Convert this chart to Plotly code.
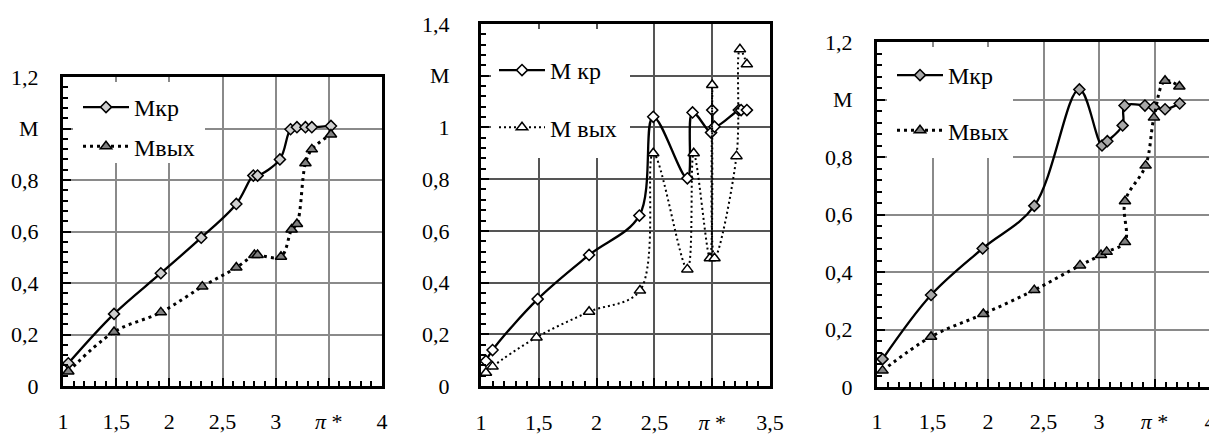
import plotly.graph_objects as go

# page body keeps its default 8px margin: the figure starts at (8, 8) on screen
OFF = 8
W, H = 1217 - OFF, 434 - OFF

# ---------------- data ----------------
# Panel 1
p1_x_kr = [1.05, 1.48, 1.92, 2.30, 2.63, 2.79, 2.83, 3.04, 3.14, 3.20, 3.28, 3.34, 3.52]
p1_m_kr = [0.088, 0.28, 0.438, 0.576, 0.707, 0.817, 0.817, 0.880, 0.997, 1.005, 1.005, 1.005, 1.01]
p1_x_out = [1.05, 1.48, 1.92, 2.31, 2.63, 2.80, 2.83, 3.05, 3.15, 3.20, 3.28, 3.34, 3.52]
p1_m_out = [0.056, 0.21, 0.286, 0.386, 0.46, 0.509, 0.509, 0.502, 0.608, 0.629, 0.865, 0.919, 0.977]

# Panel 2
p2_x_kr = [1.043, 1.10, 1.49, 1.935, 2.37, 2.49, 2.785, 2.83, 2.99, 3.00, 3.02, 3.23, 3.25, 3.30]
p2_m_kr = [0.097, 0.139, 0.336, 0.507, 0.659, 1.041, 0.803, 1.058, 0.98, 1.067, 1.003, 1.067, 1.067, 1.067]
p2_x_out = [1.043, 1.10, 1.48, 1.935, 2.375, 2.49, 2.785, 2.84, 2.98, 3.00, 3.02, 3.21, 3.24, 3.30]
p2_m_out = [0.051, 0.075, 0.188, 0.287, 0.369, 0.90, 0.451, 0.90, 0.494, 1.164, 0.494, 0.889, 1.302, 1.244]

# Panel 3
p3_x_kr = [1.05, 1.487, 1.952, 2.417, 2.823, 3.027, 3.075, 3.213, 3.23, 3.414, 3.495, 3.595, 3.727]
p3_m_kr = [0.097, 0.32, 0.482, 0.63, 1.035, 0.84, 0.855, 0.91, 0.979, 0.979, 0.973, 0.966, 0.986]
p3_x_out = [1.05, 1.487, 1.958, 2.417, 2.829, 3.018, 3.069, 3.234, 3.234, 3.42, 3.495, 3.595, 3.724]
p3_m_out = [0.057, 0.175, 0.254, 0.337, 0.423, 0.459, 0.47, 0.504, 0.646, 0.77, 0.937, 1.065, 1.045]

# tick labels
p1_xticks = [1, 1.5, 2, 2.5, 3, 3.5, 4]
p1_xtext = ["1", "1,5", "2", "2,5", "3", "<i>π</i> *", "4"]
p1_yticks = [0, 0.2, 0.4, 0.6, 0.8, 1.0, 1.2]
p1_ytext = ["0", "0,2", "0,4", "0,6", "0,8", "M", "1,2"]

p2_xticks = [1, 1.5, 2, 2.5, 3, 3.5]
p2_xtext = ["1", "1,5", "2", "2,5", "<i>π</i> *", "3,5"]
p2_yticks = [0, 0.2, 0.4, 0.6, 0.8, 1.0, 1.2, 1.4]
p2_ytext = ["0", "0,2", "0,4", "0,6", "0,8", "1", "M", "1,4"]

p3_xticks = [1, 1.5, 2, 2.5, 3, 3.5, 4]
p3_xtext = ["1", "1,5", "2", "2,5", "3", "<i>π</i> *", "4"]
p3_yticks = [0, 0.2, 0.4, 0.6, 0.8, 1.0, 1.2]
p3_ytext = ["0", "0,2", "0,4", "0,6", "0,8", "M", "1,2"]

names1 = ["Мкр", "Мвых"]
names2 = ["М кр", "М вых"]
names3 = ["Мкр", "Мвых"]

FONT = "Liberation Serif, Times New Roman, DejaVu Serif, serif"

# screen pixel boxes of the plot areas (left, right, top, bottom)
boxes = [(63, 382, 77, 386), (481, 770, 24, 386), (877, 1210, 42, 387)]
# legend cover boxes in screen pixels (left, right, top, bottom)
covers = [(73, 205, 82, 163), (491, 630, 29, 158), (887, 1013, 47, 158)]
# legend top-left positions in screen pixels
legpos = [(90, 85), (506, 48), (904, 53)]
leggap = [5, 23, 21]
xstand = [14, 15, 13]
ystand = [17, 24, 17]

fig = go.Figure()

panels = [
    dict(xk=p1_x_kr, yk=p1_m_kr, xo=p1_x_out, yo=p1_m_out, names=names1,
         dfill="#cfcfcf", tfill="#808080", owidth=3, odash="3px,4px",
         grid="#8a8a8a", gw=1.5, xr=[1, 4], yr=[0, 1.2],
         xt=p1_xticks, xtt=p1_xtext, yt=p1_yticks, ytt=p1_ytext),
    dict(xk=p2_x_kr, yk=p2_m_kr, xo=p2_x_out, yo=p2_m_out, names=names2,
         dfill="white", tfill="white", owidth=2, odash="2px,3px",
         grid="#555555", gw=2, xr=[1, 3.5], yr=[0, 1.4],
         xt=p2_xticks, xtt=p2_xtext, yt=p2_yticks, ytt=p2_ytext),
    dict(xk=p3_x_kr, yk=p3_m_kr, xo=p3_x_out, yo=p3_m_out, names=names3,
         dfill="#a8a8a8", tfill="#808080", owidth=3, odash="3px,4px",
         grid="#8a8a8a", gw=1.5, xr=[1, 4], yr=[0, 1.2],
         xt=p3_xticks, xtt=p3_xtext, yt=p3_yticks, ytt=p3_ytext),
]


def clamp(v):
    return max(0.0, min(1.0, v))


shapes = []
for i, p in enumerate(panels):
    n = "" if i == 0 else str(i + 1)
    leg = "legend" + n
    xa, ya = "x" + n, "y" + n
    fig.add_trace(go.Scatter(
        x=p["xk"], y=p["yk"], name=p["names"][0], xaxis=xa, yaxis=ya,
        mode="lines+markers", line=dict(color="black", width=2.3, shape="spline", smoothing=1),
        marker=dict(symbol="diamond", size=8.5, color=p["dfill"], line=dict(color="black", width=1.5)),
        cliponaxis=False, legend=leg, legendgroup="a" + n))
    fig.add_trace(go.Scatter(
        x=p["xo"], y=p["yo"], name=p["names"][1], xaxis=xa, yaxis=ya,
        mode="lines+markers", line=dict(color="black", width=p["owidth"], dash=p["odash"], shape="spline", smoothing=1),
        marker=dict(symbol="triangle-up", size=10, color=p["tfill"], line=dict(color="black", width=1.5)),
        cliponaxis=False, legend=leg, legendgroup="b" + n))

    l, r, t, b = boxes[i]
    xdom = [clamp((l - OFF) / W), clamp((r - OFF) / W)]
    ydom = [clamp(1 - (b - OFF) / H), clamp(1 - (t - OFF) / H)]
    common = dict(showline=True, linecolor="black", linewidth=3, mirror=True,
                  showgrid=True, gridcolor=p["grid"], gridwidth=p["gw"],
                  ticks="inside", ticklen=8, tickwidth=2, tickcolor="black",
                  zeroline=False, tickfont=dict(family=FONT, size=22, color="black"),
                  fixedrange=True, automargin=False)
    fig.layout["xaxis" + n] = dict(domain=xdom, range=p["xr"], anchor=ya,
                                   tickvals=p["xt"], ticktext=p["xtt"], ticklabelstandoff=xstand[i],
                                   minor=dict(dtick=0.1, ticks="inside", ticklen=5, tickwidth=2,
                                              tickcolor="black", showgrid=False),
                                   **common)
    fig.layout["yaxis" + n] = dict(domain=ydom, range=p["yr"], anchor=xa,
                                   tickvals=p["yt"], ticktext=p["ytt"], ticklabelstandoff=ystand[i],
                                   minor=dict(dtick=0.04, ticks="inside", ticklen=5, tickwidth=2,
                                              tickcolor="black", showgrid=False),
                                   **common)

    cl, cr, ct, cb = covers[i]
    xr0, xr1 = p["xr"]
    yr0, yr1 = p["yr"]
    shapes.append(dict(type="rect", layer="above", xref=xa, yref=ya,
                       x0=xr0 + (cl - l) / (r - l) * (xr1 - xr0),
                       x1=xr0 + (cr - l) / (r - l) * (xr1 - xr0),
                       y0=yr0 + (b - cb) / (b - t) * (yr1 - yr0),
                       y1=yr0 + (b - ct) / (b - t) * (yr1 - yr0),
                       fillcolor="white", line=dict(width=0)))

    lx, ly = legpos[i]
    fig.layout[leg] = dict(x=clamp((lx - 12 - OFF) / W), y=clamp(1 - (ly - OFF) / H),
                           xanchor="left", yanchor="top",
                           bgcolor="rgba(0,0,0,0)", borderwidth=0,
                           font=dict(family=FONT, size=24, color="black"),
                           traceorder="grouped", tracegroupgap=leggap[i],
                           itemwidth=46)

fig.update_layout(width=W, height=H,
                  margin=dict(l=0, r=0, t=0, b=0, pad=0, autoexpand=False),
                  paper_bgcolor="white", plot_bgcolor="white", shapes=shapes,
                  separators=", ", showlegend=True)

fig.write_html("out.html")
